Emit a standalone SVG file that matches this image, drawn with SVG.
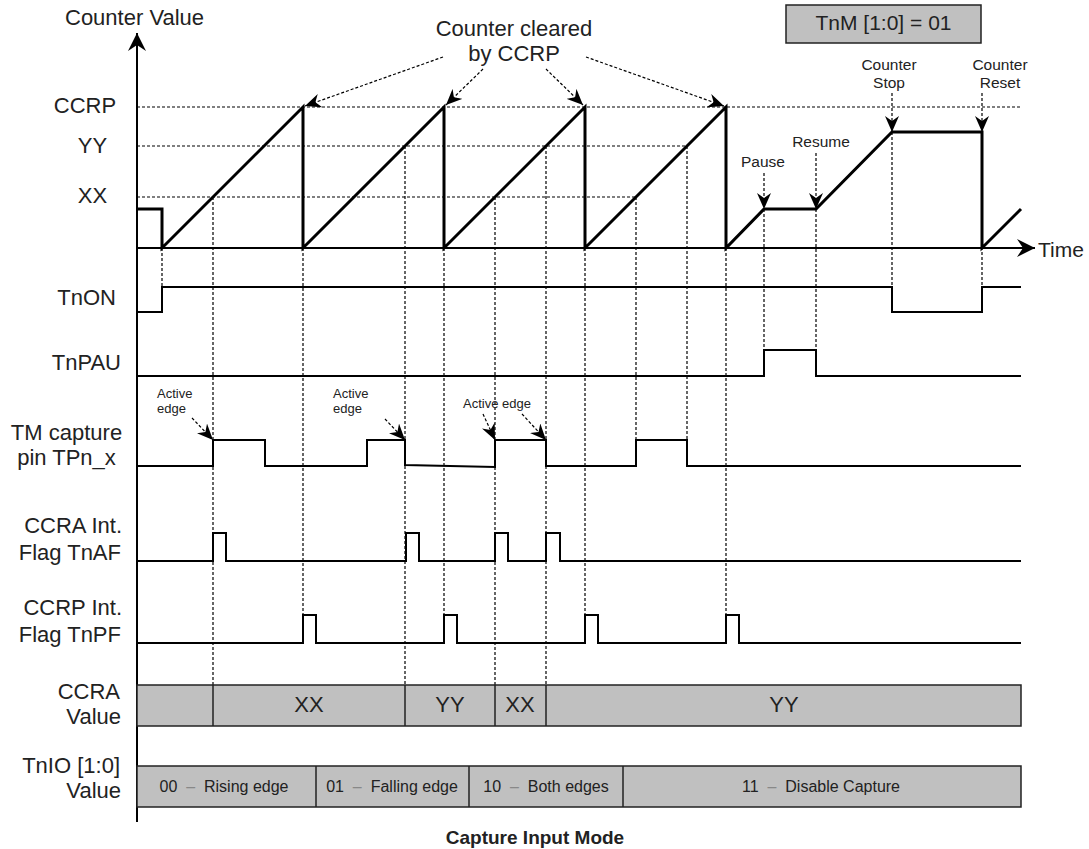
<svg xmlns="http://www.w3.org/2000/svg" width="1089" height="849" viewBox="0 0 1089 849">
<style>
text{font-family:"Liberation Sans",Arial,sans-serif;fill:#222}
.lbl{font-size:22px}
.sm{font-size:15.5px}
.xs{font-size:13px}
.io{font-size:16px}
.dash{fill:none;stroke:#000;stroke-width:1.2;stroke-dasharray:3 2}
.sig{fill:none;stroke:#000;stroke-width:2}
.cnt{fill:none;stroke:#000;stroke-width:3}
.box{fill:#c0c0c0;stroke:#222;stroke-width:1.5}
</style>
<defs>
<marker id="ah" markerUnits="userSpaceOnUse" markerWidth="16" markerHeight="14" refX="16" refY="7" orient="auto">
<path d="M0,0 L16,7 L0,14 L5,7 Z" fill="#000"/>
</marker>
<marker id="ax" markerUnits="userSpaceOnUse" markerWidth="18" markerHeight="18" refX="18" refY="9" orient="auto">
<path d="M0,0 L18,9 L0,18 L6,9 Z" fill="#000"/>
</marker>
</defs>

<g id="guides">
<path class="dash" d="M137,107 H1020 M137,146 H687 M137,197 H636"/>
<path class="dash" d="M162,248 V287 M213,197 V685 M303,248 V615 M405,146 V685 M444,248 V615 M495,197 V685 M546,146 V685 M585,248 V615 M636,197 V440 M687,146 V440 M726,248 V615 M764,209 V350 M816,209 V350 M892,132 V287 M982,132 V287"/>
</g>

<g id="axes">
<line x1="137" y1="822" x2="137" y2="33" stroke="#000" stroke-width="2" marker-end="url(#ax)"/>
<line x1="137" y1="248" x2="1035" y2="248" stroke="#000" stroke-width="2" marker-end="url(#ax)"/>
<text class="lbl" x="65" y="25">Counter Value</text>
<text x="1038" y="257" font-size="21">Time</text>
<text class="lbl" x="85" y="113" text-anchor="middle">CCRP</text>
<text class="lbl" x="92.5" y="153" text-anchor="middle">YY</text>
<text class="lbl" x="92.5" y="203" text-anchor="middle">XX</text>
</g>

<g id="counter">
<polyline class="cnt" points="137,209 162,209 162,248 303,107 303,248 444,107 444,248 585,107 585,248 726,107 726,248 764,209 816,209 892,132 982,132 982,248 1021,209"/>
</g>

<g id="box-tnm">
<rect class="box" x="786" y="5" width="195" height="38"/>
<text x="883.5" y="30" font-size="21" text-anchor="middle">TnM [1:0] = 01</text>
</g>

<g id="note-cleared">
<text class="lbl" x="514" y="36" text-anchor="middle">Counter cleared</text>
<text class="lbl" x="514" y="61" text-anchor="middle">by CCRP</text>
</g>

<g id="note-pause">
<text class="sm" x="763" y="167" text-anchor="middle">Pause</text>
</g>
<g id="note-resume">
<text class="sm" x="821" y="147" text-anchor="middle">Resume</text>
</g>
<g id="note-stop">
<text class="sm" x="889" y="70" text-anchor="middle">Counter</text>
<text class="sm" x="889" y="88" text-anchor="middle">Stop</text>
</g>
<g id="note-reset">
<text class="sm" x="1000" y="70" text-anchor="middle">Counter</text>
<text class="sm" x="1000" y="88" text-anchor="middle">Reset</text>
</g>

<g id="label-tnon"><text class="lbl" x="116" y="305" text-anchor="end">TnON</text></g>
<g id="sig-tnon"><polyline class="sig" points="137,312 162,312 162,287 892,287 892,312 982,312 982,287 1021,287"/></g>

<g id="label-tnpau"><text class="lbl" x="121" y="370" text-anchor="end">TnPAU</text></g>
<g id="sig-tnpau"><polyline class="sig" points="137,376 764,376 764,350 816,350 816,376 1021,376"/></g>

<g id="label-tm">
<text class="lbl" x="66.5" y="440" text-anchor="middle">TM capture</text>
<text class="lbl" x="66.5" y="465" text-anchor="middle">pin TPn_x</text>
</g>
<g id="sig-tm"><polyline class="sig" points="137,466 213,466 213,440 265,440 265,466 367,466 367,440 405,440 405,465 495,467 495,440 546,440 546,466 636,466 636,440 687,440 687,466 1021,466"/></g>

<g id="note-active1">
<text class="xs" x="157" y="398">Active</text>
<text class="xs" x="157" y="413">edge</text>
</g>
<g id="note-active2">
<text class="xs" x="333" y="398">Active</text>
<text class="xs" x="333" y="413">edge</text>
</g>
<g id="note-active3">
<text class="xs" x="463" y="408">Active edge</text>
</g>

<g id="label-tnaf">
<text class="lbl" x="122" y="533" text-anchor="end">CCRA Int.</text>
<text class="lbl" x="121" y="560" text-anchor="end">Flag TnAF</text>
</g>
<g id="sig-tnaf"><polyline class="sig" points="137,561 213,561 213,533 226,533 226,561 406,561 406,533 419,533 419,561 495,561 495,533 508,533 508,561 546,561 546,533 560,533 560,561 1021,561"/></g>

<g id="label-tnpf">
<text class="lbl" x="122" y="615" text-anchor="end">CCRP Int.</text>
<text class="lbl" x="121" y="642" text-anchor="end">Flag TnPF</text>
</g>
<g id="sig-tnpf"><polyline class="sig" points="137,643 303,643 303,615 316,615 316,643 444,643 444,615 457,615 457,643 585,643 585,615 598,615 598,643 726,643 726,615 739,615 739,643 1021,643"/></g>

<g id="label-ccra">
<text class="lbl" x="120" y="699" text-anchor="end">CCRA</text>
<text class="lbl" x="121" y="724" text-anchor="end">Value</text>
</g>
<g id="ccra-value">
<rect class="box" x="137" y="685" width="884" height="41"/>
<path d="M213,685 V726 M405,685 V726 M495,685 V726 M546,685 V726" stroke="#222" stroke-width="1.5"/>
<text class="lbl" x="309" y="712" text-anchor="middle">XX</text>
<text class="lbl" x="450" y="712" text-anchor="middle">YY</text>
<text class="lbl" x="520" y="712" text-anchor="middle">XX</text>
<text class="lbl" x="784" y="712" text-anchor="middle">YY</text>
</g>

<g id="label-tnio">
<text class="lbl" x="120" y="773" text-anchor="end">TnIO [1:0]</text>
<text class="lbl" x="121" y="798" text-anchor="end">Value</text>
</g>
<g id="tnio-value">
<rect class="box" x="137" y="766" width="884" height="41"/>
<path d="M316,766 V807 M469,766 V807 M623,766 V807" stroke="#222" stroke-width="1.5"/>
<text class="io" x="224" y="792" text-anchor="middle" xml:space="preserve">00  <tspan fill="#888">–</tspan>  Rising edge</text>
<text class="io" x="392" y="792" text-anchor="middle" xml:space="preserve">01  <tspan fill="#888">–</tspan>  Falling edge</text>
<text class="io" x="546" y="792" text-anchor="middle" xml:space="preserve">10  <tspan fill="#888">–</tspan>  Both edges</text>
<text class="io" x="821" y="792" text-anchor="middle" xml:space="preserve">11  <tspan fill="#888">–</tspan>  Disable Capture</text>
</g>

<g id="caption">
<text x="535" y="844" text-anchor="middle" font-size="19" font-weight="bold">Capture Input Mode</text>
</g>

<g id="connectors">
<path class="dash" d="M443,57 L305,106" marker-end="url(#ah)"/>
<path class="dash" d="M483,69 L446,105" marker-end="url(#ah)"/>
<path class="dash" d="M546,69 L583,105" marker-end="url(#ah)"/>
<path class="dash" d="M586,57 L724,106" marker-end="url(#ah)"/>
<path class="dash" d="M764,173 V209" marker-end="url(#ah)"/>
<path class="dash" d="M816,153 V209" marker-end="url(#ah)"/>
<path class="dash" d="M892,93 V132" marker-end="url(#ah)"/>
<path class="dash" d="M982,93 V132" marker-end="url(#ah)"/>
<path class="dash" d="M192,418 L213,440" marker-end="url(#ah)"/>
<path class="dash" d="M385,419 L405,440" marker-end="url(#ah)"/>
<path class="dash" d="M483,414 L495,440" marker-end="url(#ah)"/>
<path class="dash" d="M522,414 L546,440" marker-end="url(#ah)"/>
</g>
</svg>
